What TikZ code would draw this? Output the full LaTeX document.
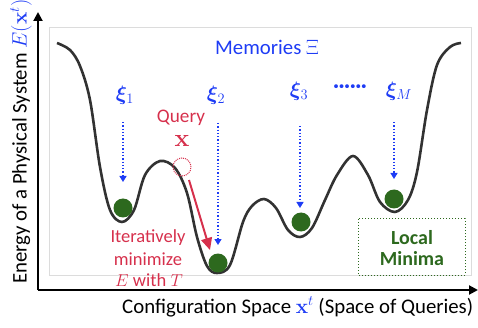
\documentclass[tikz,border=0pt]{standalone}
\usepackage{amsmath,bm}
\usepackage[no-math]{fontspec}
\setmainfont{Carlito}
\usetikzlibrary{arrows.meta}
\definecolor{memblue}{RGB}{30,60,245}
\definecolor{qred}{RGB}{214,48,76}
\definecolor{mingreen}{RGB}{45,105,30}
\definecolor{curvegray}{RGB}{50,50,50}
\definecolor{framegray}{RGB}{220,220,220}
\begin{document}
\begin{tikzpicture}[x=1pt,y=-1pt,
  lbl/.style={font=\fontsize{20.8}{24}\selectfont, inner sep=0pt},
  redlbl/.style={font=\fontsize{18.5}{22}\selectfont, inner sep=0pt, text=qred},
  axis/.style={line width=2pt, -{Triangle[width=9pt,length=9pt]}},
  landscape/.style={line width=2.6pt, curvegray, line join=round},
  ball/.style={circle, fill=mingreen, minimum size=19pt, inner sep=0pt},
  memarrow/.style={memblue, dotted, line width=1.3pt, -{Triangle[width=7pt,length=6pt]}},
  qarrow/.style={qred, line width=2pt, -{Triangle[width=11pt,length=12pt]}},
]
\useasboundingbox (0,0) rectangle (478,328);
\draw[framegray, line width=1pt] (49,28) rectangle (471,275);
% axes
\coordinate (o) at (38,290);
\coordinate (ytip) at (38,12);
\coordinate (xtip) at (478,290);
\draw[axis] (o) -- (ytip);
\draw[axis] (o) -- (xtip);
\node[lbl, rotate=90, anchor=west] (ylab) at (21,284) {Energy of a Physical System \textcolor{memblue}{$E(\mathbf{x}^t)$}};
\node[lbl, anchor=west] (xlab) at (122,307) {Configuration Space \textcolor{memblue}{$\mathbf{x}^t$} (Space of Queries)};
% energy landscape
\draw[landscape] plot[smooth, tension=0.55] coordinates {
 (57,43) (70,50) (80,66) (90,100) (100,167) (110,210) (122,222) (134,210) (145,175) (160,161)
 (175,168) (187,193) (197,237) (207,266) (217,273) (230,265) (243,222) (252,206) (264,199)
 (276,208) (288,230) (300,237) (312,228) (325,200) (337,175) (353,156) (368,175) (380,202)
 (395,212) (408,200) (417,172) (427,110) (437,65) (450,47) (461,43)};
% minima balls
\node[ball] (b1) at (123,208) {};
\node[ball] (b2) at (218,263) {};
\node[ball] (b3) at (301,222) {};
\node[ball] (b4) at (394,199) {};
% memories
\node[lbl, text=memblue] (mem) at (267,47) {Memories $\Xi$};
\node[lbl, text=memblue] (x1) at (125,95) {$\bm{\xi}_1$};
\node[lbl, text=memblue] (x2) at (216,95) {$\bm{\xi}_2$};
\node[lbl, text=memblue] (x3) at (299,91) {$\bm{\xi}_3$};
\node[lbl, text=memblue] (xd) at (350,89) {\textbf{\textperiodcentered\textperiodcentered\textperiodcentered\textperiodcentered\textperiodcentered\textperiodcentered}};
\node[lbl, text=memblue] (xm) at (399,91) {$\bm{\xi}_M$};
\coordinate (a1s) at (123,122); \coordinate (a1e) at (123,182);
\coordinate (a2s) at (218,123); \coordinate (a2e) at (218,245);
\coordinate (a3s) at (300,126); \coordinate (a3e) at (300,208);
\coordinate (a4s) at (394,122); \coordinate (a4e) at (394,179);
\draw[memarrow] (a1s) -- (a1e);
\draw[memarrow] (a2s) -- (a2e);
\draw[memarrow] (a3s) -- (a3e);
\draw[memarrow] (a4s) -- (a4e);
% query
\node[redlbl, font=\fontsize{19.2}{22}\selectfont] (q) at (181,118) {Query};
\node[redlbl] (qx) at (182,141) {\fontsize{27}{30}\selectfont$\mathbf{x}$};
\node[circle, draw=qred, densely dotted, line width=1pt, minimum size=18pt, inner sep=0pt] (qc) at (182,167) {};
\coordinate (qs) at (189,180);
\coordinate (qe) at (210,250);
\draw[qarrow] (qs) -- (qe);
\node[redlbl] (it1) at (148,238) {Iteratively};
\node[redlbl] (it2) at (148,259) {minimize};
\node[redlbl] (it3) at (149,280) {$E$ with $T$};
% local minima box
\draw[mingreen, dotted, line width=1pt] (358,219) rectangle (465,275);
\node[inner sep=0pt, text=mingreen, font=\fontsize{20}{21}\selectfont\bfseries, align=center] (lm) at (412,248) {Local\\Minima};
\end{tikzpicture}
\end{document}
